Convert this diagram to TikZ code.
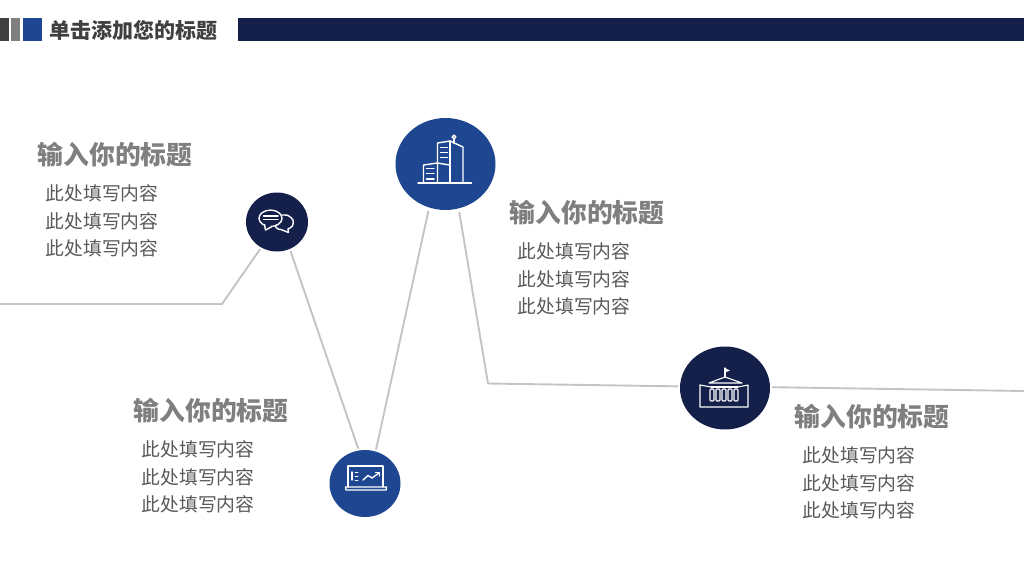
\documentclass[tikz,border=0pt]{standalone}
\usepackage{fontspec}
\setmainfont{Noto Sans CJK SC}
\usetikzlibrary{shapes.geometric}
\definecolor{navy}{RGB}{20,32,74}
\definecolor{blue}{RGB}{31,70,144}
\definecolor{linegray}{RGB}{196,196,196}
\definecolor{headgray}{RGB}{127,127,127}
\definecolor{bodygray}{RGB}{89,89,89}
\definecolor{bardark}{RGB}{64,64,64}
\tikzset{
	disc/.style={ellipse,inner sep=0pt,outer sep=2pt,draw=none},
	link/.style={draw=linegray,line width=1.9pt},
	icon/.style={draw=white,line width=1.4pt,line join=round,line cap=round},
	heading/.style={anchor=west,inner sep=0pt,text=headgray,font=\fontsize{25.8}{30}\selectfont\bfseries},
	bodyline/.style={anchor=west,inner sep=0pt,text=bodygray,font=\fontsize{18.8}{22}\selectfont}
}
\begin{document}
\begin{tikzpicture}[x=1pt,y=-1pt]
	\useasboundingbox (0,0) rectangle (1024,576);
	% top bar
	\fill[bardark] (0,18) rectangle (9,41);
	\fill[headgray] (11,18) rectangle (20,41);
	\fill[blue] (23,18) rectangle (42,41);
	\fill[navy] (238,18) rectangle (1024,41);
	\node[anchor=west,inner sep=0pt,text=bardark,font=\fontsize{21}{25}\selectfont\bfseries] (title) at (49.5,30.5) {单击添加您的标题};
	
	\node[disc,fill=navy,minimum width=62pt,minimum height=59pt] (talk) at (277,222) {};
	\node[disc,fill=blue,minimum width=100pt,minimum height=92pt,outer sep=3.5pt] (towers) at (445.5,164) {};
	\node[disc,fill=blue,minimum width=71pt,minimum height=67pt] (laptop) at (365,483.5) {};
	\node[disc,fill=navy,minimum width=90pt,minimum height=83pt] (capitol) at (725,388) {};
	
	\coordinate (start) at (0,304);
	\coordinate (kneea) at (222,304);
	\coordinate (kneeb) at (488,383.5);
	\coordinate (stop) at (1024,391);
	
	\draw[link] (start) -- (kneea) -- (talk.238);
	\draw[link] (talk.295) -- (laptop.101);
	\draw[link] (laptop.72) -- (towers.250);
	\draw[link] (towers.286) -- (kneeb) -- (capitol.178);
	\draw[link] (capitol.1) -- (stop);
	
	\foreach \n/\x/\y in {a/37.5/154.7,b/509.5/212.7,c/133.5/410.7,d/794.5/416.7}
		\node[heading] (head\n) at (\x,\y) {输入你的标题};
	\foreach \n/\x/\y in {a/45.5/193,b/517.5/251,c/141.5/449,d/802.5/455}
		\foreach \k/\d in {1/0,2/28,3/55}
			\node[bodyline] (body\n\k) at (\x,\y+\d) {此处填写内容};
	
	% speech bubbles
	\draw[icon] (270.5,218.3) ellipse [x radius=11.5,y radius=8.2];
	\fill[navy] (264,224) -- (266,231) -- (273,226) -- cycle;
	\draw[icon] (264.5,224.5) -- (265.5,230) -- (272,226.5);
	\draw[icon] (263.5,216) -- (278,216);
	\draw[icon] (263.5,219.7) -- (278,219.7);
	\draw[icon] plot[smooth] coordinates {(282,215) (288,215.5) (293,220) (292.5,226) (288,229)};
	\draw[icon] (288,229) -- (288.5,232.5) -- (281,229.5);
	\draw[icon] plot[smooth] coordinates {(281,229.5) (278,229) (275.5,226.5)};
	
	% office towers
	\draw[icon] (418,183) -- (471.5,183);
	\draw[icon] (423.5,183) -- (423.5,165) -- (437.5,163);
	\draw[icon] (437.5,183) -- (437.5,143) -- (450,141) -- (463,147) -- (463,183);
	\draw[icon] (450,141) -- (450,183);
	\draw[icon] (437.5,163) -- (449.5,165);
	\draw[icon] (454,143.5) -- (454,139.5);
	\draw[icon] (454,137) circle (1.8);
	\foreach \y in {168.5,173.5,179}
		\draw[icon] (426.5,\y) -- (434,\y);
	\foreach \y in {147.5,152.5,157.5}
		\draw[icon] (440.5,\y) -- (447.5,\y);
	
	% laptop with chart
	\draw[icon] (348,487) -- (348,466) -- (383,466) -- (383,487);
	\draw[icon] (345.5,487) -- (386.5,487) -- (386,490) -- (346,490) -- cycle;
	\draw[icon] (352,472) -- (352,480);
	\foreach \y in {472,476,480}
		\draw[icon,line width=0.9pt] (355,\y) -- (358,\y);
	\draw[icon] (363,480) -- (368,475.5) -- (372,478) -- (379,473);
	\draw[icon] (375.5,472.5) -- (379.5,472.5) -- (379.5,476);
	
	% capitol building
	\draw[icon,line width=1.1pt] (725,377) -- (725,368);
	\fill[white] (725,368) -- (730,370.5) -- (725,372.5) -- cycle;
	\draw[icon,line width=1.1pt] (709,383) -- (725,377) -- (742,383) -- cycle;
	\draw[icon,line width=1.1pt] (700,385) -- (700,407) -- (748,407) -- (748,385) -- (738,387);
	\draw[icon,line width=1.1pt] (700,385) -- (711,387);
	\draw[icon,line width=1.1pt] (711,387) -- (738,387);
	\foreach \x in {712,718,724,730,736}
		\draw[icon,line width=1.1pt,rounded corners=1pt] (\x-2,389) rectangle (\x+2,401);
\end{tikzpicture}
\end{document}
